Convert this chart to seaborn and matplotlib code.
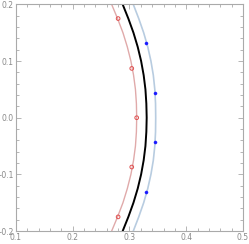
import matplotlib
matplotlib.use("Agg")
import matplotlib.pyplot as plt
import seaborn as sns
from matplotlib.ticker import MultipleLocator, FuncFormatter

y_curve = [0.2, 0.175, 0.15, 0.125, 0.1, 0.075, 0.05, 0.025, 0.0,
           -0.025, -0.05, -0.075, -0.1, -0.125, -0.15, -0.175, -0.2]
x_black = [0.288, 0.298, 0.307, 0.3145, 0.3205, 0.3250, 0.3281, 0.3297, 0.3303,
           0.3297, 0.3281, 0.3250, 0.3205, 0.3145, 0.307, 0.298, 0.288]
x_red = [0.2686, 0.279, 0.2885, 0.2962, 0.3025, 0.3072, 0.3105, 0.3122, 0.3127,
         0.3122, 0.3105, 0.3072, 0.3025, 0.2962, 0.2885, 0.279, 0.2686]
x_blue = [0.3067, 0.3163, 0.3250, 0.3322, 0.3378, 0.3420, 0.3446, 0.3459, 0.3462,
          0.3459, 0.3446, 0.3420, 0.3378, 0.3322, 0.3250, 0.3163, 0.3067]

red_pts_x = [0.280, 0.304, 0.3127, 0.304, 0.280]
red_pts_y = [0.175, 0.087, 0.0, -0.087, -0.175]
blue_pts_x = [0.3297, 0.3455, 0.3455, 0.3297]
blue_pts_y = [0.131, 0.043, -0.043, -0.131]

sns.set_style("white")
fig = plt.figure(figsize=(2.49, 2.44), dpi=100)
ax = fig.add_axes([0.064, 0.053, 0.912, 0.929])

sns.lineplot(x=x_red, y=y_curve, sort=False, estimator=None, color="#e0aaaa", lw=1.0, ax=ax)
sns.lineplot(x=x_blue, y=y_curve, sort=False, estimator=None, color="#b8cce0", lw=1.2, ax=ax)
sns.lineplot(x=x_black, y=y_curve, sort=False, estimator=None, color="black", lw=1.4, ax=ax)
sns.scatterplot(x=red_pts_x, y=red_pts_y, marker="o", s=7, facecolor="none",
                edgecolor="#e05050", linewidth=0.7, ax=ax, zorder=5)
sns.scatterplot(x=blue_pts_x, y=blue_pts_y, marker="o", s=5, color="#1a1aff",
                edgecolor="#1a1aff", linewidth=0.3, ax=ax, zorder=5)

ax.set_xlim(0.1, 0.5)
ax.set_ylim(-0.2, 0.2)
ax.xaxis.set_major_locator(MultipleLocator(0.1))
ax.xaxis.set_minor_locator(MultipleLocator(0.02))
ax.yaxis.set_major_locator(MultipleLocator(0.1))
ax.yaxis.set_minor_locator(MultipleLocator(0.02))
ax.xaxis.set_major_formatter(FuncFormatter(lambda v, p: f"{v:.1f}"))
ax.yaxis.set_major_formatter(FuncFormatter(
    lambda v, p: ("0.0" if abs(v) < 1e-9 else f"{v:.1f}".replace("-", "\u2212"))))
ax.tick_params(which="both", direction="in", top=True, right=True, bottom=True, left=True,
               colors="#aaaaaa", labelcolor="#888888", labelsize=5.5, width=0.6, pad=1.5)
ax.tick_params(which="major", length=3.5)
ax.tick_params(which="minor", length=2)
for s in ax.spines.values():
    s.set_color("#aaaaaa")
    s.set_linewidth(0.8)
ax.set_xlabel("")
ax.set_ylabel("")
fig.savefig("out.png", dpi=100)
